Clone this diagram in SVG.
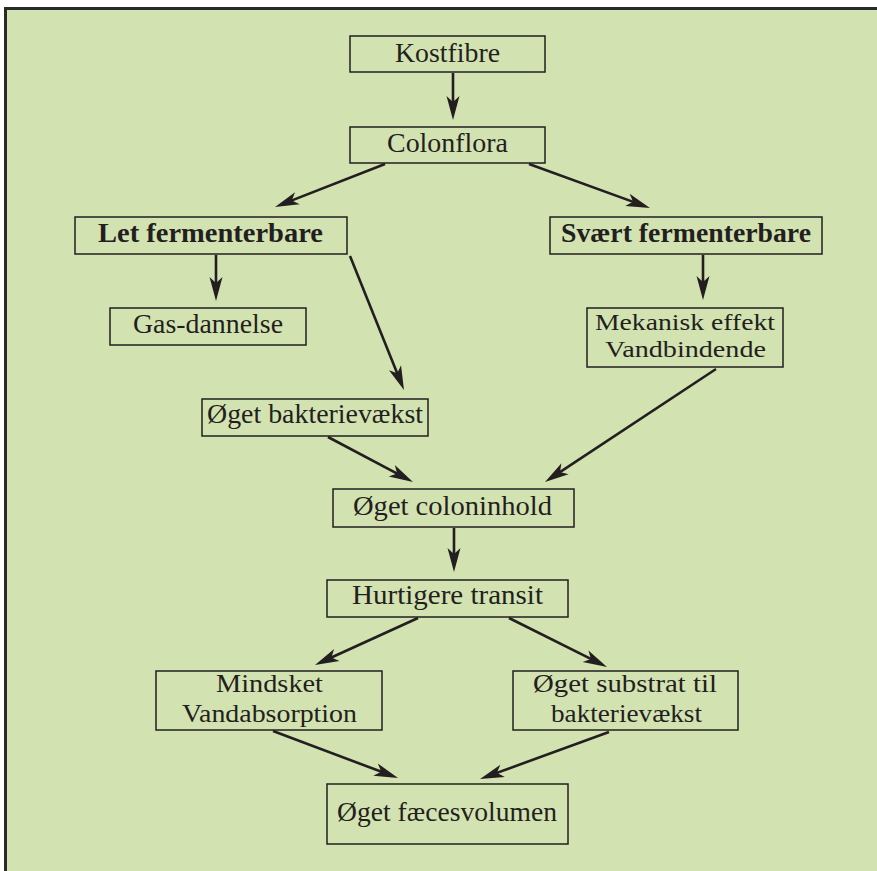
<svg xmlns="http://www.w3.org/2000/svg" width="877" height="871" viewBox="0 0 877 871">
<style>
.box{fill:none;stroke:#231f20;stroke-width:1.5}
.t{font-family:"Liberation Serif","DejaVu Serif",serif;font-size:28px;fill:#231f20;text-anchor:middle}
.m{font-size:24px}
.n{font-size:26px}
.b{font-weight:bold}
.c{stroke:#231f20;stroke-width:2.6;fill:none;marker-end:url(#ah)}
</style>
<defs>
<marker id="ah" markerUnits="userSpaceOnUse" markerWidth="30" markerHeight="20" viewBox="-15 -10 30 20" refX="0" refY="0" orient="auto" overflow="visible">
<path d="M12,0 L-12,-6.5 L-6,0 L-12,6.5 Z" fill="#231f20"/>
</marker>
</defs>
<rect x="0" y="0" width="877" height="871" fill="#ffffff"/>
<rect x="4" y="7" width="873" height="864" fill="#2a2a2a"/>
<rect x="7" y="10" width="870" height="861" fill="#d3e2b1"/>

<g id="n-kostfibre"><rect class="box" x="350" y="36" width="195" height="36"/><text class="t" x="447.5" y="62" textLength="105" lengthAdjust="spacingAndGlyphs">Kostfibre</text></g>
<g id="n-colonflora"><rect class="box" x="350" y="127" width="195" height="36"/><text class="t" x="447.5" y="152" textLength="121" lengthAdjust="spacingAndGlyphs">Colonflora</text></g>
<g id="n-let"><rect class="box" x="75" y="217" width="272" height="37"/><text class="t b" x="210.5" y="242" textLength="225" lengthAdjust="spacingAndGlyphs">Let fermenterbare</text></g>
<g id="n-svaert"><rect class="box" x="550" y="217" width="272" height="37"/><text class="t b" x="686" y="242" textLength="250" lengthAdjust="spacingAndGlyphs">Svært fermenterbare</text></g>
<g id="n-gas"><rect class="box" x="110" y="308" width="196" height="37"/><text class="t" x="208" y="333" textLength="150" lengthAdjust="spacingAndGlyphs">Gas-dannelse</text></g>
<g id="n-mekanisk"><rect class="box" x="587" y="308" width="196" height="59"/><text class="t m" x="685" y="330" textLength="180" lengthAdjust="spacingAndGlyphs">Mekanisk effekt</text><text class="t m" x="685.5" y="357" textLength="161" lengthAdjust="spacingAndGlyphs">Vandbindende</text></g>
<g id="n-bakterie"><rect class="box" x="202" y="399" width="226" height="37"/><text class="t" x="315" y="423" textLength="216" lengthAdjust="spacingAndGlyphs">Øget bakterievækst</text></g>
<g id="n-colon"><rect class="box" x="333" y="489" width="241" height="38"/><text class="t" x="452.5" y="515" textLength="199" lengthAdjust="spacingAndGlyphs">Øget coloninhold</text></g>
<g id="n-transit"><rect class="box" x="327" y="580" width="241" height="37"/><text class="t" x="447.5" y="604" textLength="191" lengthAdjust="spacingAndGlyphs">Hurtigere transit</text></g>
<g id="n-mindsket"><rect class="box" x="156" y="671" width="226" height="59"/><text class="t n" x="269.5" y="692" textLength="107" lengthAdjust="spacingAndGlyphs">Mindsket</text><text class="t n" x="269.5" y="722" textLength="175" lengthAdjust="spacingAndGlyphs">Vandabsorption</text></g>
<g id="n-substrat"><rect class="box" x="513" y="671" width="225" height="59"/><text class="t n" x="625" y="692" textLength="184" lengthAdjust="spacingAndGlyphs">Øget substrat til</text><text class="t n" x="626.5" y="722" textLength="151" lengthAdjust="spacingAndGlyphs">bakterievækst</text></g>
<g id="n-faeces"><rect class="box" x="327" y="784" width="241" height="60"/><text class="t" x="447" y="821" textLength="220" lengthAdjust="spacingAndGlyphs">Øget fæcesvolumen</text></g>

<g id="connectors">
<line class="c" x1="453" y1="73" x2="453" y2="108"/>
<line class="c" x1="385" y1="164" x2="286.2" y2="202.6"/>
<line class="c" x1="529" y1="164" x2="638.7" y2="203.9"/>
<line class="c" x1="216" y1="255" x2="216" y2="289"/>
<line class="c" x1="703" y1="255" x2="703" y2="288"/>
<line class="c" x1="350" y1="256" x2="399.5" y2="378.9"/>
<line class="c" x1="716" y1="369" x2="555" y2="475.4"/>
<line class="c" x1="328" y1="437" x2="402.4" y2="476.3"/>
<line class="c" x1="454" y1="528" x2="454" y2="560"/>
<line class="c" x1="418" y1="618" x2="325.9" y2="660"/>
<line class="c" x1="509" y1="618" x2="596.3" y2="661.6"/>
<line class="c" x1="273" y1="731" x2="386.8" y2="773.8"/>
<line class="c" x1="609" y1="732" x2="491.3" y2="774.9"/>
</g>
</svg>
